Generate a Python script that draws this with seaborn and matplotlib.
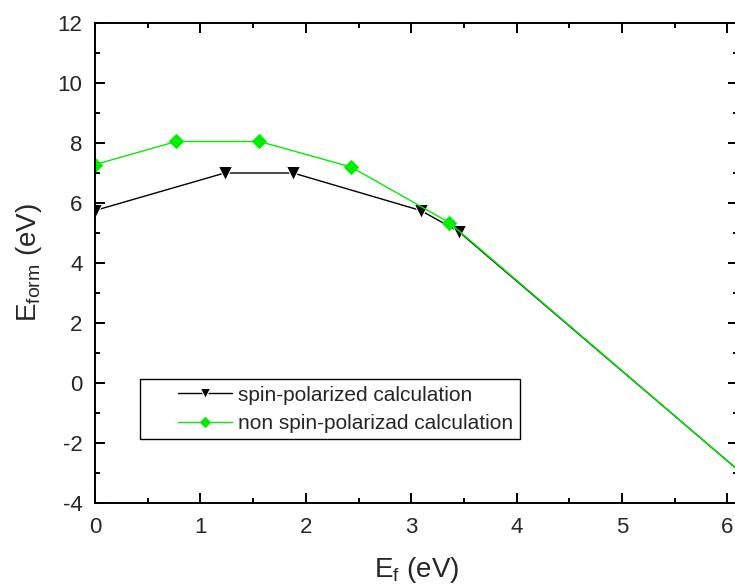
import matplotlib
matplotlib.use('Agg')
import matplotlib.pyplot as plt
import seaborn as sns
import pandas as pd
from matplotlib.ticker import MultipleLocator
from matplotlib.patches import Rectangle

# Formation energy vs Fermi level
spin_x = [0.0, 1.23, 1.88, 3.09, 3.45, 6.1]
spin_y = [5.75, 7.0, 7.0, 5.75, 5.05, -2.9]
nonspin_x = [0.0, 0.77, 1.56, 2.43, 3.36, 6.1]
nonspin_y = [7.28, 8.05, 8.05, 7.2, 5.35, -2.9]

spin = pd.DataFrame({'Ef': spin_x, 'Eform': spin_y})
nonspin = pd.DataFrame({'Ef': nonspin_x, 'Eform': nonspin_y})

sns.set_style('ticks')
plt.rcParams['font.family'] = ['Liberation Sans', 'DejaVu Sans']
plt.rcParams['mathtext.default'] = 'regular'
plt.rcParams['axes.unicode_minus'] = False

green = '#00ee00'

fig = plt.figure(figsize=(7.35, 5.88), dpi=100)
ax = fig.add_axes([95 / 735, 85 / 588, 643 / 735, 480 / 588])

sns.lineplot(data=spin, x='Ef', y='Eform', ax=ax, color='black', lw=1,
             marker='v', markersize=10, markevery=slice(0, 5),
             label='spin-polarized calculation')
sns.lineplot(data=nonspin, x='Ef', y='Eform', ax=ax, color=green, lw=1,
             marker='D', markersize=6.8, markevery=slice(0, 5),
             markeredgecolor=green, label='non spin-polarizad calculation')

ax.set_xlim(0, 6.1)
ax.set_ylim(-4, 12)
ax.xaxis.set_major_locator(MultipleLocator(1))
ax.xaxis.set_minor_locator(MultipleLocator(0.5))
ax.yaxis.set_major_locator(MultipleLocator(2))
ax.yaxis.set_minor_locator(MultipleLocator(1))
ax.tick_params(which='both', direction='in', top=True, right=True,
               labelsize=16, width=1.4, color='black')
ax.tick_params(axis='x', pad=10)
ax.tick_params(axis='y', pad=9)
ax.tick_params(which='major', length=7)
ax.tick_params(which='minor', length=3.6)
for s in ax.spines.values():
    s.set_linewidth(1.4)
    s.set_color('black')

ax.set_xlabel('E$_f$ (eV)', fontsize=20, labelpad=12)
ax.set_ylabel('E$_{form}$ (eV)', fontsize=20, labelpad=10)

leg = ax.legend(loc='lower left', bbox_to_anchor=(0.119, 0.133),
                fontsize=15, frameon=False, borderaxespad=0,
                borderpad=0.3, handlelength=2.6, handletextpad=0.3,
                labelspacing=0.45, markerscale=0.7)

# Origin style legend frame with a wide left margin
fig.canvas.draw()
ext = leg.get_window_extent()
frame = Rectangle((ext.x0 - 32, ext.y0), ext.width + 32, ext.height,
                  transform=None, fill=False, edgecolor='black', lw=1,
                  zorder=5)
fig.add_artist(frame)

fig.savefig('out.png', dpi=100)
